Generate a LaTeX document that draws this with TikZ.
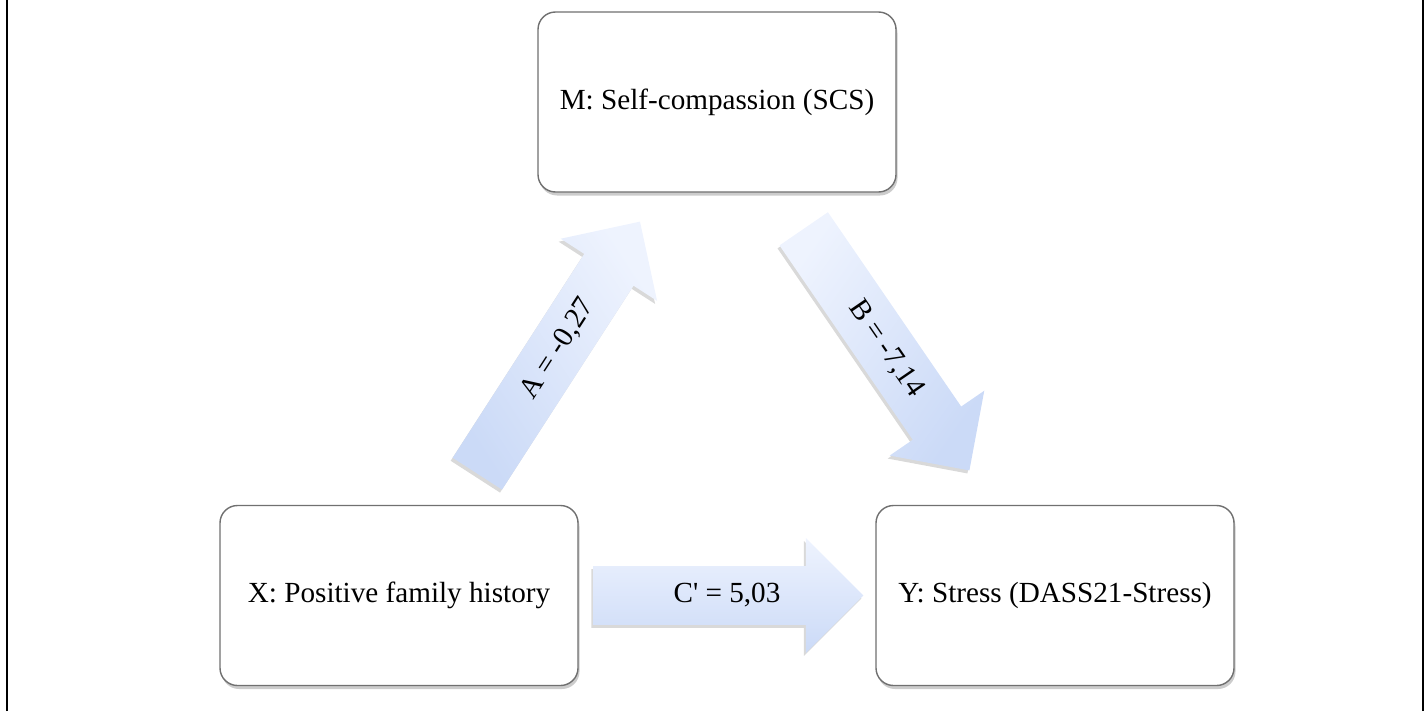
\documentclass[tikz,border=0pt]{standalone}
\usepackage{fontspec}
\setmainfont{Liberation Serif}
\usetikzlibrary{shapes.arrows,shadows}
\definecolor{arrowlight}{RGB}{238,243,254}
\definecolor{arrowdark}{RGB}{203,218,247}
\definecolor{boxline}{RGB}{112,112,112}

\begin{document}
\begin{tikzpicture}[
  every node/.style={font=\fontsize{16.6}{20}\selectfont},
  varbox/.style={rectangle, rounded corners=0.35cm, draw=boxline, line width=0.8pt, fill=white,
    minimum width=7.16cm, minimum height=3.6cm,
    drop shadow={shadow xshift=0.03cm, shadow yshift=-0.07cm, opacity=0.4}},
  fatarrow/.style={single arrow, single arrow head extend=0.56cm, single arrow tip angle=90,
    text height=0.42cm, text depth=0.14cm, inner ysep=0.3cm, inner xsep=0pt, sloped,
    top color=arrowlight, bottom color=arrowdark,
    drop shadow={shadow xshift=-0.04cm, shadow yshift=-0.06cm, opacity=0.3}},
  weight/.style={sloped, inner sep=0pt}
]
\useasboundingbox (0,0) rectangle (28.56,14.22);
\draw[line width=1.1pt] (0.14,0) -- (0.14,14.22);
\draw[line width=1.1pt] (28.46,0) -- (28.46,14.22);

\node [varbox] (m) at (14.34,12.18) {M: Self-compassion (SCS)};
\node [varbox] (x) at (7.98,2.31) {X: Positive family history};
\node [varbox] (y) at (21.10,2.31) {Y: Stress (DASS21-Stress)};

\path (x) -- node [fatarrow, pos=0.464, minimum height=6cm, shading angle=-57] (a) {}
  node [weight] {A = -0,27} (m);
\path (m) -- node [fatarrow, pos=0.464, minimum height=5.86cm, shading angle=55] (b) {}
  node [weight] {B = -7,14} (y);
\path (x) -- node [fatarrow, pos=0.455, minimum height=5.4cm] (c) {}
  node [weight] {C\textquotesingle{} = 5,03} (y);
\end{tikzpicture}
\end{document}
